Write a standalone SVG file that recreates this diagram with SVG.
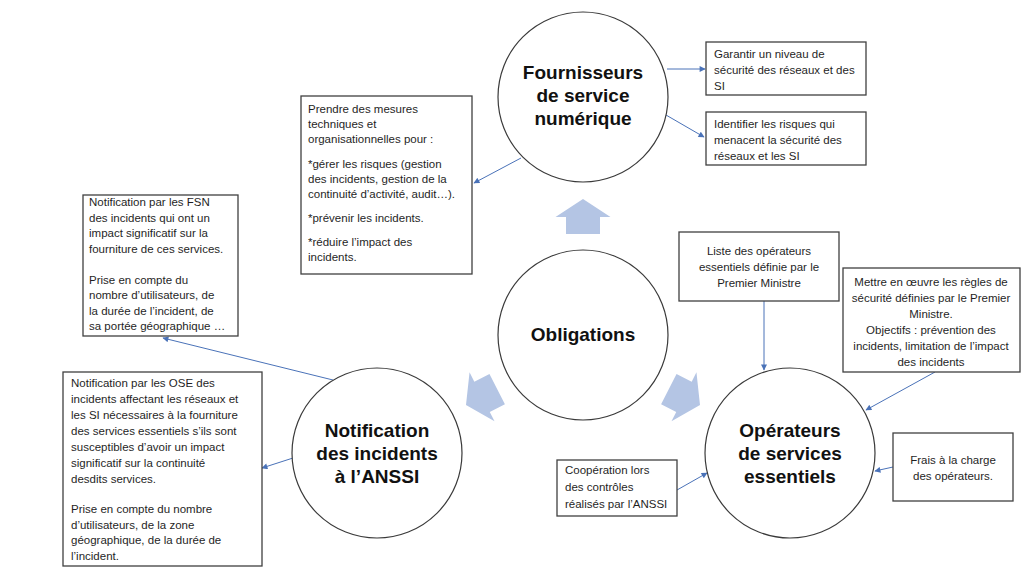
<svg xmlns="http://www.w3.org/2000/svg" width="1024" height="576" viewBox="0 0 1024 576">
<style>
.circle{fill:#fff;stroke:#3a3a3a;stroke-width:1.2}
.box{fill:#fff;stroke:#404040;stroke-width:1.3}
.title{font-family:"Liberation Sans",Arial,sans-serif;font-weight:bold;font-size:19px;fill:#111;text-anchor:middle}
.t{font-family:"Liberation Sans",Arial,sans-serif;font-size:11.5px;fill:#1f1f1f}
.c{text-anchor:middle}
.conn{stroke:#4a72b8;stroke-width:1;fill:none;marker-end:url(#ah)}
.big{fill:#b4c5e4}
</style>
<defs>
<marker id="ah" viewBox="0 0 10 10" refX="9" refY="5" markerWidth="7" markerHeight="6" markerUnits="userSpaceOnUse" orient="auto">
<path d="M0,0 L10,5 L0,10 z" fill="#4a72b8"/>
</marker>
<path id="fat" d="M0,0 L27.5,18 L17,18 L17,35 L-17,35 L-17,18 L-27.5,18 Z"/>
</defs>
<rect width="1024" height="576" fill="#fff"/>

<g id="block-arrows">
<use href="#fat" class="big" transform="translate(583,199)"/>
<use href="#fat" class="big" transform="translate(466,405) rotate(-117)"/>
<use href="#fat" class="big" transform="translate(700,405) rotate(117)"/>
</g>

<g id="connectors">
<line class="conn" x1="667" y1="69" x2="705" y2="69"/>
<line class="conn" x1="666" y1="115" x2="704" y2="137"/>
<line class="conn" x1="521" y1="158" x2="474" y2="183"/>
<line class="conn" x1="333" y1="380" x2="163" y2="338"/>
<line class="conn" x1="293" y1="458" x2="262" y2="468"/>
<line class="conn" x1="764" y1="301" x2="764" y2="370"/>
<line class="conn" x1="935" y1="372" x2="866" y2="410"/>
<line class="conn" x1="893" y1="467" x2="875" y2="471"/>
<line class="conn" x1="677" y1="490" x2="707" y2="473"/>
</g>

<g id="node-fsn">
<circle class="circle" cx="583" cy="97" r="85"/>
<text class="title" x="583" y="79">Fournisseurs</text>
<text class="title" x="583" y="102">de service</text>
<text class="title" x="583" y="125">numérique</text>
</g>

<g id="node-obligations">
<circle class="circle" cx="583" cy="335" r="85"/>
<text class="title" x="583" y="341">Obligations</text>
</g>

<g id="node-notification">
<circle class="circle" cx="377" cy="453" r="85"/>
<text class="title" x="377" y="437">Notification</text>
<text class="title" x="377" y="460">des incidents</text>
<text class="title" x="377" y="483">à l’ANSSI</text>
</g>

<g id="node-ose">
<circle class="circle" cx="790" cy="453" r="85"/>
<text class="title" x="790" y="437">Opérateurs</text>
<text class="title" x="790" y="460">de services</text>
<text class="title" x="790" y="483">essentiels</text>
</g>

<g id="box-prendre">
<rect class="box" x="301" y="96" width="171" height="178"/>
<text class="t" x="308" y="113">Prendre des mesures</text>
<text class="t" x="308" y="128">techniques et</text>
<text class="t" x="308" y="143">organisationnelles pour :</text>
<text class="t" x="308" y="168">*gérer les risques (gestion</text>
<text class="t" x="308" y="183">des incidents, gestion de la</text>
<text class="t" x="308" y="198">continuité  d’activité, audit…).</text>
<text class="t" x="308" y="222">*prévenir les incidents.</text>
<text class="t" x="308" y="246">*réduire l’impact des</text>
<text class="t" x="308" y="261">incidents.</text>
</g>

<g id="box-fsn-notif">
<rect class="box" x="83" y="195" width="155" height="141"/>
<text class="t" x="89" y="206">Notification par les FSN</text>
<text class="t" x="89" y="221.5">des incidents qui ont un</text>
<text class="t" x="89" y="237">impact significatif sur la</text>
<text class="t" x="89" y="252.5">fourniture de ces services.</text>
<text class="t" x="89" y="283.5">Prise en compte  du</text>
<text class="t" x="89" y="299">nombre  d’utilisateurs, de</text>
<text class="t" x="89" y="314.5">la durée de l’incident, de</text>
<text class="t" x="89" y="330">sa portée géographique …</text>
</g>

<g id="box-ose-notif">
<rect class="box" x="63" y="372" width="199" height="194"/>
<text class="t" x="71" y="387">Notification par les OSE des</text>
<text class="t" x="71" y="403">incidents affectant les réseaux et</text>
<text class="t" x="71" y="419">les SI nécessaires à la fourniture</text>
<text class="t" x="71" y="435">des services essentiels s’ils sont</text>
<text class="t" x="71" y="451">susceptibles d’avoir un impact</text>
<text class="t" x="71" y="467">significatif sur la continuité</text>
<text class="t" x="71" y="483">desdits services.</text>
<text class="t" x="71" y="513">Prise en compte  du nombre</text>
<text class="t" x="71" y="528.5">d’utilisateurs, de la zone</text>
<text class="t" x="71" y="544">géographique, de la durée de</text>
<text class="t" x="71" y="560">l’incident.</text>
</g>

<g id="box-garantir">
<rect class="box" x="706" y="42" width="160" height="53"/>
<text class="t" x="714" y="58">Garantir un niveau de</text>
<text class="t" x="714" y="74">sécurité des réseaux et des</text>
<text class="t" x="714" y="90">SI</text>
</g>

<g id="box-identifier">
<rect class="box" x="706" y="112" width="160" height="53"/>
<text class="t" x="714" y="128">Identifier les risques qui</text>
<text class="t" x="714" y="144">menacent  la sécurité des</text>
<text class="t" x="714" y="160">réseaux et les SI</text>
</g>

<g id="box-liste">
<rect class="box" x="679" y="232" width="160" height="69"/>
<text class="t c" x="759" y="255">Liste des opérateurs</text>
<text class="t c" x="759" y="271">essentiels définie par le</text>
<text class="t c" x="759" y="287">Premier Ministre</text>
</g>

<g id="box-mettre">
<rect class="box" x="843" y="268" width="177" height="104"/>
<text class="t c" x="931" y="286">Mettre en œuvre les règles de</text>
<text class="t c" x="931" y="302">sécurité définies par le Premier</text>
<text class="t c" x="931" y="318">Ministre.</text>
<text class="t c" x="931" y="334">Objectifs : prévention  des</text>
<text class="t c" x="931" y="350">incidents, limitation de l’impact</text>
<text class="t c" x="931" y="366">des incidents</text>
</g>

<g id="box-cooperation">
<rect class="box" x="557" y="460" width="120" height="56"/>
<text class="t" x="565" y="474">Coopération  lors</text>
<text class="t" x="565" y="491">des contrôles</text>
<text class="t" x="565" y="508">réalisés par l’ANSSI</text>
</g>

<g id="box-frais">
<rect class="box" x="893" y="433" width="120" height="68"/>
<text class="t c" x="953" y="464">Frais à la charge</text>
<text class="t c" x="953" y="480">des opérateurs.</text>
</g>
</svg>
